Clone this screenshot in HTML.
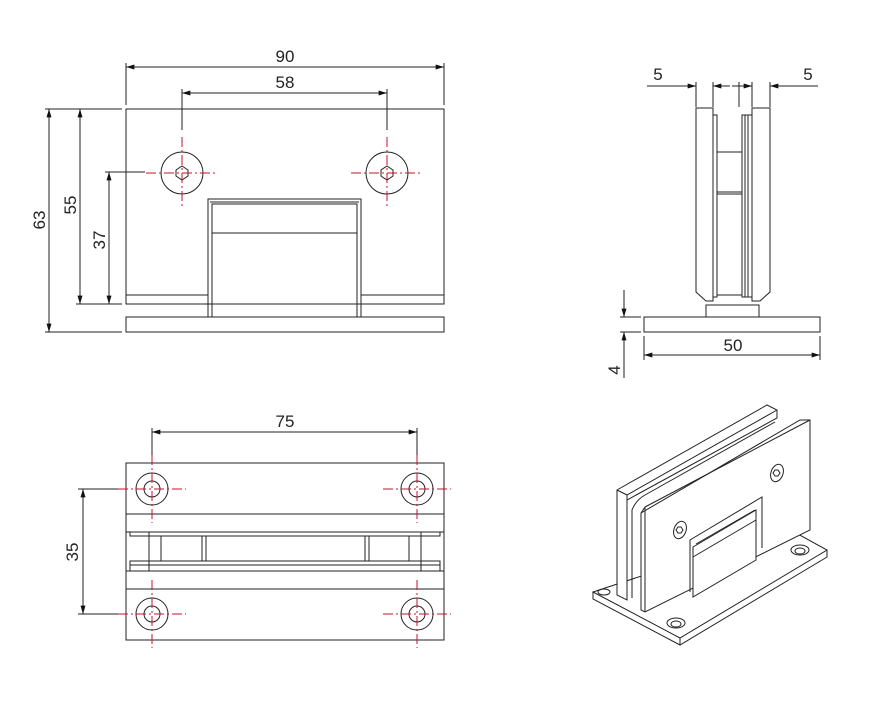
<!DOCTYPE html>
<html><head><meta charset="utf-8"><style>
html,body{margin:0;padding:0;background:#fff;}
svg{display:block;}
text{font-family:"Liberation Sans",sans-serif;font-size:17px;fill:#222;}
</style></head><body>
<svg width="886" height="705" viewBox="0 0 886 705" xmlns="http://www.w3.org/2000/svg">
<defs>
<marker id="a" viewBox="0 0 10 6" refX="10" refY="3" markerWidth="10" markerHeight="5" orient="auto-start-reverse" markerUnits="userSpaceOnUse"><path d="M0,0 L10,3 L0,6z" fill="#111"/></marker>
</defs>
<g stroke="#222" stroke-width="1" fill="none">
<!-- FRONT VIEW -->
<line x1="126" y1="63" x2="126" y2="105"/><line x1="444" y1="63" x2="444" y2="105"/>
<line x1="126" y1="67" x2="444" y2="67" marker-start="url(#a)" marker-end="url(#a)"/>
<line x1="182" y1="89" x2="182" y2="130"/><line x1="387" y1="89" x2="387" y2="130"/>
<line x1="182" y1="93" x2="387" y2="93" marker-start="url(#a)" marker-end="url(#a)"/>
<rect x="126" y="109" width="318" height="195"/>
<line x1="126" y1="295" x2="208" y2="295"/><line x1="361" y1="295" x2="444" y2="295"/>
<path d="M208,317 V199 H361 V317"/>
<path d="M212,317 V204 H357 V317"/>
<line x1="210" y1="202" x2="359" y2="202"/>
<line x1="212" y1="233" x2="357" y2="233"/>
<rect x="126" y="317" width="318" height="15"/>
<circle cx="182" cy="173" r="21"/><circle cx="387" cy="173" r="21"/>
<polygon points="182,166 188,170 188,176 182,180 176,176 176,170"/>
<polygon points="387,166 393,170 393,176 387,180 381,176 381,170"/>
<line x1="45" y1="109" x2="122" y2="109"/><line x1="45" y1="332" x2="122" y2="332"/>
<line x1="76" y1="304" x2="122" y2="304"/>
<line x1="49" y1="109" x2="49" y2="332" marker-start="url(#a)" marker-end="url(#a)"/>
<line x1="80" y1="109" x2="80" y2="304" marker-start="url(#a)" marker-end="url(#a)"/>
<line x1="105" y1="172" x2="145" y2="172"/>
<line x1="109" y1="172" x2="109" y2="304" marker-start="url(#a)" marker-end="url(#a)"/>

<!-- SIDE VIEW -->
<line x1="696" y1="82" x2="696" y2="107"/><line x1="713" y1="82" x2="713" y2="107"/>
<line x1="739" y1="82" x2="739" y2="107"/><line x1="752" y1="82" x2="752" y2="107"/><line x1="770" y1="82" x2="770" y2="107"/>
<line x1="647" y1="86" x2="696" y2="86" marker-end="url(#a)"/>
<line x1="713" y1="86" x2="730" y2="86" marker-start="url(#a)"/>
<line x1="732" y1="86" x2="752" y2="86" marker-end="url(#a)"/>
<line x1="770" y1="86" x2="818" y2="86" marker-start="url(#a)"/>
<path d="M713,108 H696 V292 L706,301 H713 Z"/>
<path d="M752,108 H770 V292 L760,301 H752 Z"/>
<rect x="713" y="115" width="4" height="182"/>
<rect x="742" y="115" width="10" height="182"/>
<line x1="745" y1="115" x2="745" y2="297"/><line x1="748" y1="115" x2="748" y2="297"/>
<line x1="717" y1="152" x2="742" y2="152"/><line x1="717" y1="192" x2="742" y2="192"/><line x1="717" y1="194" x2="742" y2="194"/>
<line x1="717" y1="295" x2="742" y2="295"/>
<rect x="706" y="305" width="53" height="12"/>
<rect x="644" y="317" width="176" height="15"/>
<line x1="620" y1="317" x2="641" y2="317"/><line x1="620" y1="332" x2="641" y2="332"/>
<line x1="624" y1="290" x2="624" y2="317" marker-end="url(#a)"/>
<line x1="624" y1="378" x2="624" y2="332" marker-end="url(#a)"/>
<line x1="644" y1="336" x2="644" y2="360"/><line x1="820" y1="336" x2="820" y2="360"/>
<line x1="644" y1="355" x2="820" y2="355" marker-start="url(#a)" marker-end="url(#a)"/>

<!-- TOP VIEW -->
<line x1="152" y1="428" x2="152" y2="455"/><line x1="417" y1="428" x2="417" y2="455"/>
<line x1="152" y1="432" x2="417" y2="432" marker-start="url(#a)" marker-end="url(#a)"/>
<rect x="126" y="463" width="318" height="177"/>
<line x1="126" y1="514" x2="444" y2="514"/><line x1="126" y1="532" x2="444" y2="532"/>
<line x1="126" y1="571" x2="444" y2="571"/><line x1="126" y1="589" x2="444" y2="589"/>
<rect x="130" y="532" width="310" height="4"/>
<rect x="130" y="561" width="310" height="10"/><line x1="130" y1="565" x2="440" y2="565"/>
<line x1="149" y1="532" x2="149" y2="571"/><line x1="421" y1="532" x2="421" y2="571"/>
<line x1="161" y1="536" x2="161" y2="561"/><line x1="202" y1="536" x2="202" y2="561"/><line x1="206" y1="536" x2="206" y2="561"/>
<line x1="365" y1="536" x2="365" y2="561"/><line x1="369" y1="536" x2="369" y2="561"/><line x1="409" y1="536" x2="409" y2="561"/>
<circle cx="152" cy="489" r="16"/><circle cx="152" cy="489" r="8"/>
<circle cx="417" cy="489" r="16"/><circle cx="417" cy="489" r="8"/>
<circle cx="152" cy="614" r="16"/><circle cx="152" cy="614" r="8"/>
<circle cx="417" cy="614" r="16"/><circle cx="417" cy="614" r="8"/>
<line x1="78" y1="489" x2="118" y2="489"/><line x1="78" y1="614" x2="118" y2="614"/>
<line x1="83" y1="489" x2="83" y2="614" marker-start="url(#a)" marker-end="url(#a)"/>

<!-- ISO VIEW -->
<path fill="#fff" d="M593,592 L680,638 L827,550 L787,528 Z"/>
<path d="M593,592 V599 L680,645 L827,557 V550 M680,638 V645"/>
<ellipse cx="676" cy="623" rx="9" ry="5"/><ellipse cx="676" cy="624" rx="5" ry="3"/>
<ellipse cx="800" cy="550" rx="9" ry="5"/><ellipse cx="800" cy="551" rx="5" ry="3"/>
<!-- back plate -->
<path fill="#fff" d="M617,490 L767,405 L777,410 L777,418 L627,500 L627,600 L617,595 Z"/>
<ellipse cx="604" cy="592" rx="6" ry="3"/>
<path d="M617,490 L627,495 L777,410 M627,495 V600"/>
<path d="M632,510 Q636,500 645,495 L775,422 M632,510 V598"/>
<!-- front plate -->
<path fill="#fff" d="M641,513 L800,420 L810,420 L810,530 L645,612 L641,610 Z"/>
<path d="M645,507 L810,420 M645,507 V612 M641,513 L645,507"/>
<path d="M641,515 V610"/>
<!-- notch -->
<path d="M690,592 V540 L762,497 V548"/>
<path fill="#fff" d="M693,547 L756,510 V560 L693,597 Z"/>
<path d="M693,557 L756,520"/>
<path d="M696,544 L755,510"/>
<ellipse cx="680" cy="530" rx="6" ry="9" transform="rotate(20 680 530)"/>
<ellipse cx="777" cy="473" rx="6" ry="9" transform="rotate(20 777 473)"/>
<path d="M678,527 l3,0 l2,3 l-2,3 l-3,0 l-2,-3z"/>
<path d="M775,470 l3,0 l2,3 l-2,3 l-3,0 l-2,-3z"/>
</g>
<g stroke="#c8102e" stroke-width="1" stroke-dasharray="10,3,2,3" fill="none">
<line x1="146" y1="173" x2="218" y2="173"/><line x1="182" y1="137" x2="182" y2="207"/>
<line x1="351" y1="173" x2="423" y2="173"/><line x1="387" y1="137" x2="387" y2="207"/>
<line x1="118" y1="489" x2="186" y2="489"/><line x1="152" y1="455" x2="152" y2="523"/>
<line x1="383" y1="489" x2="451" y2="489"/><line x1="417" y1="455" x2="417" y2="523"/>
<line x1="118" y1="614" x2="186" y2="614"/><line x1="152" y1="580" x2="152" y2="648"/>
<line x1="383" y1="614" x2="451" y2="614"/><line x1="417" y1="580" x2="417" y2="648"/>
</g>
<text x="285" y="62" text-anchor="middle">90</text>
<text x="285" y="88" text-anchor="middle">58</text>
<text transform="translate(45,220) rotate(-90)" text-anchor="middle">63</text>
<text transform="translate(76,205) rotate(-90)" text-anchor="middle">55</text>
<text transform="translate(105,240) rotate(-90)" text-anchor="middle">37</text>
<text x="658" y="80" text-anchor="middle">5</text>
<text x="808" y="80" text-anchor="middle">5</text>
<text x="733" y="351" text-anchor="middle">50</text>
<text transform="translate(620,370) rotate(-90)" text-anchor="middle">4</text>
<text x="285" y="427" text-anchor="middle">75</text>
<text transform="translate(78,552) rotate(-90)" text-anchor="middle">35</text>
</svg>
</body></html>
